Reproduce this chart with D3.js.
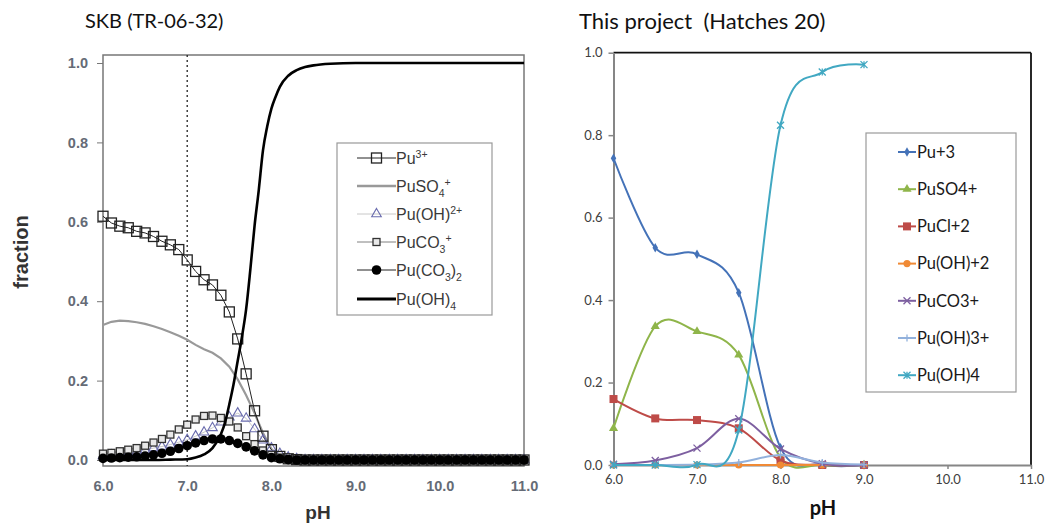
<!DOCTYPE html>
<html>
<head>
<meta charset="utf-8">
<script src="https://cdn.jsdelivr.net/npm/d3@7"></script>
<style>
body { margin: 0; background: #fff; }
</style>
</head>
<body>
<script>
const w = 1050;
const h = 528;

// * LEFT PANEL DATA: SKB (TR-06-32)
const skbPH = [6.0, 6.1, 6.2, 6.3, 6.4, 6.5, 6.6, 6.7, 6.8, 6.9, 7.0, 7.1, 7.2, 7.3, 7.4, 7.5, 7.6, 7.7, 7.8, 7.9, 8.0, 8.1, 8.2, 8.3,
	8.4, 8.5, 8.6, 8.7, 8.8, 8.9, 9.0, 9.1, 9.2, 9.3, 9.4, 9.5, 9.6, 9.7, 9.8, 9.9, 10.0, 10.1, 10.2, 10.3, 10.4, 10.5, 10.6, 10.7, 10.8, 10.9, 11.0];
const skbPu3 = [0.614, 0.597, 0.589, 0.585, 0.576, 0.572, 0.563, 0.551, 0.542, 0.530, 0.504, 0.475, 0.454, 0.441, 0.415, 0.373, 0.305, 0.217, 0.124, 0.060, 0.026, 0.009, 0.003, 0.001,
	0, 0, 0, 0, 0, 0, 0, 0, 0, 0, 0, 0, 0, 0, 0, 0, 0, 0, 0, 0, 0, 0, 0, 0, 0, 0, 0];
const skbPuSO4 = [0.340, 0.348, 0.351, 0.350, 0.347, 0.343, 0.337, 0.330, 0.322, 0.313, 0.303, 0.290, 0.279, 0.270, 0.256, 0.235, 0.203, 0.163, 0.118, 0.068, 0.028, 0.010, 0.003, 0.001,
	0, 0, 0, 0, 0, 0, 0, 0, 0, 0, 0, 0, 0, 0, 0, 0, 0, 0, 0, 0, 0, 0, 0, 0, 0, 0, 0];
const skbPuOH2 = [0.010, 0.012, 0.014, 0.017, 0.020, 0.025, 0.030, 0.034, 0.039, 0.045, 0.051, 0.060, 0.070, 0.081, 0.095, 0.108, 0.118, 0.105, 0.078, 0.050, 0.030, 0.016, 0.007, 0.003,
	0, 0, 0, 0, 0, 0, 0, 0, 0, 0, 0, 0, 0, 0, 0, 0, 0, 0, 0, 0, 0, 0, 0, 0, 0, 0, 0];
const skbPuCO3 = [0.016, 0.018, 0.022, 0.026, 0.030, 0.036, 0.044, 0.053, 0.064, 0.077, 0.089, 0.102, 0.111, 0.112, 0.106, 0.097, 0.082, 0.060, 0.040, 0.024, 0.013, 0.006, 0.002, 0.001,
	0, 0, 0, 0, 0, 0, 0, 0, 0, 0, 0, 0, 0, 0, 0, 0, 0, 0, 0, 0, 0, 0, 0, 0, 0, 0, 0];
const skbPuCO3x2 = [0.004, 0.005, 0.006, 0.007, 0.008, 0.010, 0.013, 0.017, 0.022, 0.029, 0.036, 0.043, 0.049, 0.053, 0.053, 0.049, 0.042, 0.033, 0.023, 0.013, 0.006, 0.003, 0.001, 0.000,
	0, 0, 0, 0, 0, 0, 0, 0, 0, 0, 0, 0, 0, 0, 0, 0, 0, 0, 0, 0, 0, 0, 0, 0, 0, 0, 0];
const skbOH4PH = [6.0, 6.5, 6.8, 7.0, 7.1, 7.2, 7.3, 7.4, 7.45, 7.5, 7.55, 7.6, 7.65, 7.7, 7.75, 7.8, 7.85, 7.9, 7.95, 8.0, 8.05, 8.1, 8.2, 8.3, 8.4, 8.5, 8.7, 9.0, 10.0, 11.0];
const skbPuOH4 = [0, 0, 0.001, 0.002, 0.006, 0.014, 0.030, 0.065, 0.095, 0.14, 0.19, 0.25, 0.31, 0.38, 0.48, 0.59, 0.68, 0.78, 0.84, 0.885, 0.915, 0.94, 0.968, 0.982, 0.99, 0.994, 0.998, 1.0, 1.0, 1.0];

// * RIGHT PANEL DATA: This project (Hatches 20)
const hatPH = [6.0, 6.5, 7.0, 7.5, 8.0, 8.5, 9.0];
const hatPu3 = [0.744, 0.527, 0.511, 0.418, 0.042, 0.001, 0.0];
const hatPuSO4 = [0.089, 0.336, 0.324, 0.267, 0.018, 0.0, 0.0];
const hatPuCl2 = [0.160, 0.113, 0.109, 0.089, 0.011, 0.0, 0.0];
const hatPuOH2 = [0, 0, 0, 0, 0, 0, 0];
const hatPuCO3 = [0.002, 0.011, 0.041, 0.112, 0.039, 0.003, 0.0];
const hatPuOH3 = [0.0, 0.0, 0.001, 0.006, 0.024, 0.006, 0.001];
const hatPuOH4 = [0.0, 0.0, 0.001, 0.085, 0.824, 0.953, 0.971];

const xTicks = [6, 7, 8, 9, 10, 11];
const yTicks = [0, 0.2, 0.4, 0.6, 0.8, 1.0];

const svg = d3.select("body").append("svg").attr("width", w).attr("height", h);
svg.append("rect").attr("width", w).attr("height", h).attr("fill", "#fff");

function glyph(type, s) {
	const r = s / 2;
	if (type === "x") return `M${-r},${-r}L${r},${r}M${-r},${r}L${r},${-r}`;
	if (type === "plus") return `M${-r},0L${r},0M0,${-r}L0,${r}`;
	return `M${-r},${-r}L${r},${r}M${-r},${r}L${r},${-r}M0,${-r}L0,${r}`;
}

// ================= LEFT PANEL =================
const xL = d3.scaleLinear().domain([6, 11]).range([103, 524]);
const yL = d3.scaleLinear().domain([0, 1]).range([460, 63]);
const leftTop = 55, leftBottom = 466;

svg.append("text").attr("x", 85).attr("y", 28)
	.attr("font-family", "Lato").attr("font-size", 20).attr("fill", "#111")
	.text("SKB (TR-06-32)");

const gL = svg.append("g");
gL.append("rect").attr("x", xL(6)).attr("y", leftTop)
	.attr("width", xL(11) - xL(6)).attr("height", leftBottom - leftTop)
	.attr("fill", "none").attr("stroke", "#777").attr("stroke-width", 1.5);

const yAxisL = d3.axisLeft(yL).tickValues(yTicks).tickFormat(d3.format(".1f")).tickSize(6).tickPadding(9);
gL.append("g").attr("transform", "translate(" + xL(6) + ",0)").call(yAxisL)
	.call((g) => g.select(".domain").remove())
	.call((g) => g.selectAll("line").attr("stroke", "#777"))
	.call((g) => g.selectAll("text").attr("font-family", "Liberation Sans").attr("font-size", 14.5)
		.attr("font-weight", "bold").attr("fill", "#656b76"));

const xAxisL = d3.axisBottom(xL).tickValues(xTicks).tickFormat(d3.format(".1f")).tickSize(0).tickPadding(15);
gL.append("g").attr("transform", "translate(0," + leftBottom + ")").call(xAxisL)
	.call((g) => g.select(".domain").remove())
	.call((g) => g.selectAll("text").attr("font-family", "Liberation Sans").attr("font-size", 14.5)
		.attr("font-weight", "bold").attr("fill", "#656b76"));

// dotted line at pH 7
gL.append("line").attr("x1", xL(7)).attr("x2", xL(7)).attr("y1", leftTop).attr("y2", leftBottom)
	.attr("stroke", "#222").attr("stroke-width", 1.3).attr("stroke-dasharray", "2,3");

gL.append("text").attr("transform", "translate(28,252) rotate(-90)")
	.attr("text-anchor", "middle").attr("font-family", "Liberation Sans").attr("font-weight", "bold")
	.attr("font-size", 20).attr("fill", "#333").text("fraction");
gL.append("text").attr("x", 318).attr("y", 519).attr("text-anchor", "middle")
	.attr("font-family", "Liberation Sans").attr("font-weight", "bold")
	.attr("font-size", 19).attr("fill", "#333").text("pH");

const lineL = d3.line().x((d) => xL(d[0])).y((d) => yL(d[1]));
const pairs = (xs, ys) => xs.map((x, i) => [x, ys[i]]);

const skbSeries = [
	{ vals: skbPuSO4, stroke: "#999", width: 2.2, marker: null },
	{ vals: skbPuOH2, stroke: "#c8c8c8", width: 1, marker: "tri" },
	{ vals: skbPuCO3, stroke: "#808080", width: 1, marker: "sq" },
	{ vals: skbPu3, stroke: "#222", width: 1, marker: "bigsq" },
	{ vals: skbPuCO3x2, stroke: "#111", width: 1, marker: "dot" },
];

skbSeries.forEach((s) => {
	gL.append("path").attr("d", lineL(pairs(skbPH, s.vals)))
		.attr("fill", "none").attr("stroke", s.stroke).attr("stroke-width", s.width);
});

function skbMarker(sel, type) {
	if (type === "tri") {
		sel.append("path").attr("d", d3.symbol(d3.symbolTriangle, 40)())
			.attr("fill", "none").attr("stroke", "#6a6cae").attr("stroke-width", 1.1);
	} else if (type === "sq") {
		sel.append("rect").attr("x", -3.5).attr("y", -3.5).attr("width", 7).attr("height", 7)
			.attr("fill", "#e8e8e8").attr("stroke", "#333").attr("stroke-width", 1.3);
	} else if (type === "bigsq") {
		sel.append("rect").attr("x", -5).attr("y", -5).attr("width", 10).attr("height", 10)
			.attr("fill", "none").attr("stroke", "#222").attr("stroke-width", 1.3);
	} else if (type === "dot") {
		sel.append("circle").attr("r", 4.8).attr("fill", "#000");
	}
}

skbSeries.filter((s) => s.marker).forEach((s) => {
	gL.append("g").selectAll("g").data(pairs(skbPH, s.vals)).enter().append("g")
		.attr("transform", (d) => "translate(" + xL(d[0]) + "," + yL(d[1]) + ")")
		.each(function () { skbMarker(d3.select(this), s.marker); });
});

gL.append("path").attr("d", lineL.curve(d3.curveMonotoneX)(pairs(skbOH4PH, skbPuOH4)))
	.attr("fill", "none").attr("stroke", "#000").attr("stroke-width", 2.6);

// left legend
const legL = [
	{ parts: [["Pu"], ["3+", "sup"]], marker: "bigsq", stroke: "#222", width: 1 },
	{ parts: [["PuSO"], ["4", "sub"], ["+", "sup"]], marker: null, stroke: "#999", width: 2.5 },
	{ parts: [["Pu(OH)"], ["2+", "sup"]], marker: "tri", stroke: "#c8c8c8", width: 1 },
	{ parts: [["PuCO"], ["3", "sub"], ["+", "sup"]], marker: "sq", stroke: "#808080", width: 1 },
	{ parts: [["Pu(CO"], ["3", "sub"], [")"], ["2", "sub"]], marker: "dot", stroke: "#222", width: 1 },
	{ parts: [["Pu(OH)"], ["4", "sub"]], marker: null, stroke: "#000", width: 3 },
];
const legLy = [158, 186, 214, 242, 270, 299];
gL.append("rect").attr("x", 337).attr("y", 143).attr("width", 155).attr("height", 172)
	.attr("fill", "#fff").attr("stroke", "#999").attr("stroke-width", 1.2);
legL.forEach((e, i) => {
	const y = legLy[i];
	gL.append("line").attr("x1", 357).attr("x2", 396).attr("y1", y).attr("y2", y)
		.attr("stroke", e.stroke).attr("stroke-width", e.width);
	if (e.marker) {
		const m = gL.append("g").attr("transform", "translate(376.5," + y + ")");
		skbMarker(m, e.marker);
	}
	const t = gL.append("text").attr("x", 396).attr("y", y + 6)
		.attr("font-family", "Liberation Sans").attr("font-size", 16).attr("fill", "#3a3a3a");
	let shift = 0;
	e.parts.forEach((p) => {
		const target = p[1] === "sup" ? -6 : p[1] === "sub" ? 5 : 0;
		t.append("tspan").attr("dy", target - shift)
			.attr("font-size", p[1] ? 10.5 : 16).text(p[0]);
		shift = target;
	});
});

// ================= RIGHT PANEL =================
const xR = d3.scaleLinear().domain([6, 11]).range([613.5, 1031]);
const yR = d3.scaleLinear().domain([0, 1]).range([465, 52.7]);

svg.append("text").attr("x", 579).attr("y", 29).attr("xml:space", "preserve")
	.attr("font-family", "Lato").attr("font-size", 22).attr("fill", "#111")
	.style("white-space", "pre").text("This project  (Hatches 20)");

const gR = svg.append("g");
gR.append("line").attr("x1", xR(6)).attr("x2", xR(11)).attr("y1", yR(1)).attr("y2", yR(1))
	.attr("stroke", "#111").attr("stroke-width", 1.8);
gR.append("line").attr("x1", xR(11)).attr("x2", xR(11)).attr("y1", yR(1)).attr("y2", yR(0))
	.attr("stroke", "#111").attr("stroke-width", 1.8);

const yAxisR = d3.axisLeft(yR).tickValues(yTicks).tickFormat(d3.format(".1f")).tickSize(5).tickPadding(6).tickSizeOuter(0);
gR.append("g").attr("transform", "translate(" + xR(6) + ",0)").call(yAxisR)
	.call((g) => g.select(".domain").attr("stroke", "#868686").attr("stroke-width", 2))
	.call((g) => g.selectAll("line").attr("stroke", "#868686").attr("stroke-width", 1.5))
	.call((g) => g.selectAll("text").attr("font-family", "Lato").attr("font-size", 13).attr("fill", "#404040"));

const xAxisR = d3.axisBottom(xR).tickValues(xTicks).tickFormat(d3.format(".1f")).tickSize(4).tickPadding(6).tickSizeOuter(0);
gR.append("g").attr("transform", "translate(0," + yR(0) + ")").call(xAxisR)
	.call((g) => g.select(".domain").attr("stroke", "#868686").attr("stroke-width", 2))
	.call((g) => g.selectAll("line").attr("stroke", "#868686").attr("stroke-width", 1.5))
	.call((g) => g.selectAll("text").attr("font-family", "Lato").attr("font-size", 13).attr("fill", "#404040"));

gR.append("text").attr("x", 823).attr("y", 515).attr("text-anchor", "middle")
	.attr("font-family", "Lato").attr("font-weight", "bold")
	.attr("font-size", 20).attr("fill", "#111").text("pH");

const hatSeries = [
	{ name: "Pu+3", vals: hatPu3, color: "#4472b8", marker: "diamond" },
	{ name: "PuSO4+", vals: hatPuSO4, color: "#8fb54a", marker: "triangle" },
	{ name: "PuCl+2", vals: hatPuCl2, color: "#be4b48", marker: "square" },
	{ name: "Pu(OH)+2", vals: hatPuOH2, color: "#f08a35", marker: "circle" },
	{ name: "PuCO3+", vals: hatPuCO3, color: "#7d5fa0", marker: "x" },
	{ name: "Pu(OH)3+", vals: hatPuOH3, color: "#92b1dc", marker: "plus" },
	{ name: "Pu(OH)4", vals: hatPuOH4, color: "#41a8c2", marker: "star" },
];

function hatMarker(sel, s) {
	if (s.marker === "diamond") {
		sel.append("path").attr("d", d3.symbol(d3.symbolDiamond, 26)()).attr("fill", s.color);
	} else if (s.marker === "triangle") {
		sel.append("path").attr("d", d3.symbol(d3.symbolTriangle, 36)()).attr("fill", s.color);
	} else if (s.marker === "square") {
		sel.append("rect").attr("x", -4).attr("y", -4).attr("width", 8).attr("height", 8).attr("fill", s.color);
	} else if (s.marker === "circle") {
		sel.append("circle").attr("r", 3.6).attr("fill", s.color);
	} else {
		sel.append("path").attr("d", glyph(s.marker, 7)).attr("fill", "none")
			.attr("stroke", s.color).attr("stroke-width", 1.3);
	}
}

const lineR = d3.line().x((d) => xR(d[0])).y((d) => yR(d[1])).curve(d3.curveCatmullRom.alpha(0));
hatSeries.forEach((s) => {
	gR.append("path").attr("d", lineR(pairs(hatPH, s.vals)))
		.attr("fill", "none").attr("stroke", s.color).attr("stroke-width", 2);
	gR.append("g").selectAll("g").data(pairs(hatPH, s.vals)).enter().append("g")
		.attr("transform", (d) => "translate(" + xR(d[0]) + "," + yR(d[1]) + ")")
		.each(function () { hatMarker(d3.select(this), s); });
});

// right legend
gR.append("rect").attr("x", 866).attr("y", 133).attr("width", 150).attr("height", 259)
	.attr("fill", "#fff").attr("stroke", "#9a9a9a").attr("stroke-width", 1.2);
hatSeries.forEach((s, i) => {
	const y = 152 + i * 37.2;
	gR.append("line").attr("x1", 898).attr("x2", 916).attr("y1", y).attr("y2", y)
		.attr("stroke", s.color).attr("stroke-width", 2);
	const m = gR.append("g").attr("transform", "translate(907," + y + ")");
	hatMarker(m, s);
	gR.append("text").attr("x", 917).attr("y", y + 5.8)
		.attr("font-family", "Lato").attr("font-size", 16.5).attr("fill", "#1a1a1a").text(s.name);
});
</script>
</body>
</html>
